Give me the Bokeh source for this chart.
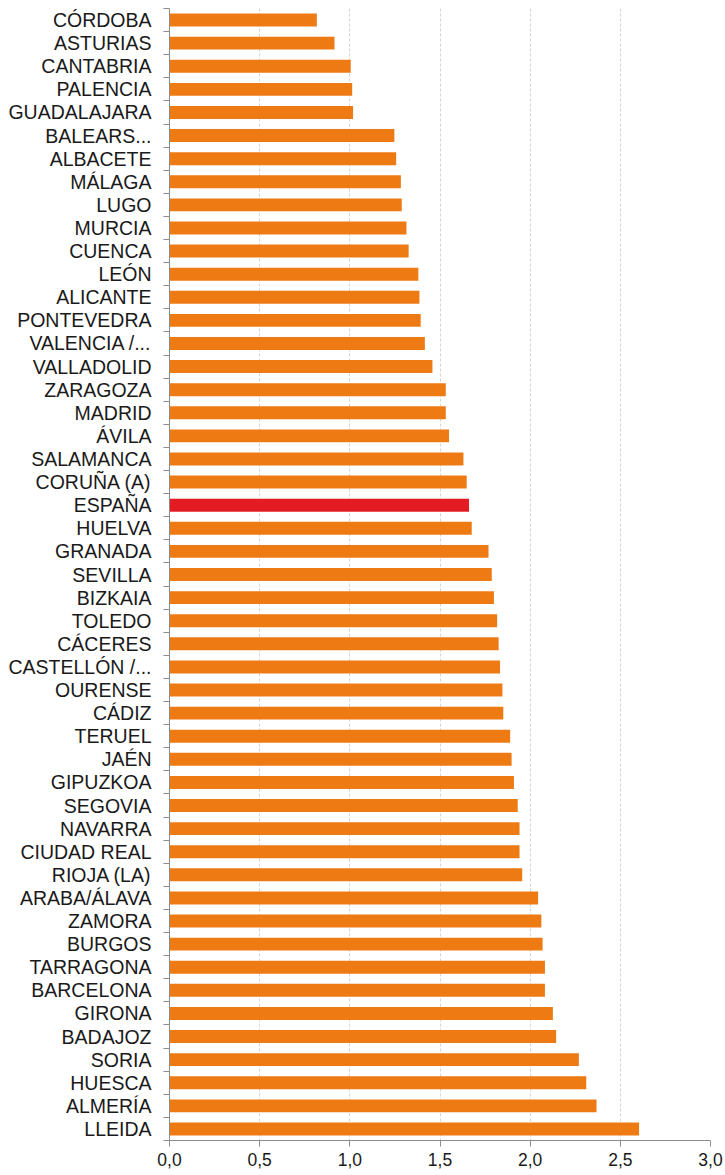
from bokeh.plotting import figure
from bokeh.models import Range1d, FixedTicker, CustomJSTickFormatter, ColumnDataSource
from bokeh.embed import file_html
from bokeh.resources import INLINE

provinces = ["CÓRDOBA", "ASTURIAS", "CANTABRIA", "PALENCIA", "GUADALAJARA", "BALEARS...",
             "ALBACETE", "MÁLAGA", "LUGO", "MURCIA", "CUENCA", "LEÓN", "ALICANTE",
             "PONTEVEDRA", "VALENCIA /...", "VALLADOLID", "ZARAGOZA", "MADRID", "ÁVILA",
             "SALAMANCA", "CORUÑA (A)", "ESPAÑA", "HUELVA", "GRANADA", "SEVILLA", "BIZKAIA",
             "TOLEDO", "CÁCERES", "CASTELLÓN /...", "OURENSE", "CÁDIZ", "TERUEL", "JAÉN",
             "GIPUZKOA", "SEGOVIA", "NAVARRA", "CIUDAD REAL", "RIOJA (LA)", "ARABA/ÁLAVA",
             "ZAMORA", "BURGOS", "TARRAGONA", "BARCELONA", "GIRONA", "BADAJOZ", "SORIA",
             "HUESCA", "ALMERÍA", "LLEIDA"]
values = [0.817, 0.915, 1.005, 1.013, 1.018, 1.247, 1.257, 1.283, 1.288, 1.314, 1.326, 1.380,
          1.386, 1.393, 1.416, 1.458, 1.532, 1.532, 1.550, 1.630, 1.648, 1.661, 1.676, 1.769,
          1.787, 1.799, 1.817, 1.825, 1.833, 1.846, 1.851, 1.889, 1.897, 1.910, 1.931, 1.941,
          1.941, 1.956, 2.044, 2.062, 2.069, 2.082, 2.082, 2.126, 2.144, 2.270, 2.311, 2.368,
          2.604]
x_ticks = [0.0, 0.5, 1.0, 1.5, 2.0, 2.5, 3.0]

ORANGE = "#EE7A14"
RED = "#E31B23"

n = len(provinces)
idx = list(range(n))
colors = [RED if p == "ESPAÑA" else ORANGE for p in provinces]
src = ColumnDataSource(dict(y=idx, right=values, color=colors))

p = figure(width=725, height=1175, output_backend="svg", toolbar_location=None,
           x_range=Range1d(0, 3.0), y_range=Range1d(n - 0.5, -0.5),
           min_border_left=169, min_border_right=15, min_border_top=8, min_border_bottom=35)
p.outline_line_color = None
p.background_fill_color = "white"

p.hbar(y="y", left=0, right="right", height=0.56, color="color", line_color=None, source=src)

FONT = "Liberation Sans"
AX = "#8c8c8c"

# x axis
p.xaxis.ticker = FixedTicker(ticks=x_ticks)
p.xaxis.formatter = CustomJSTickFormatter(code="return tick.toFixed(1).replace('.', ',');")
p.xaxis.axis_line_color = AX
p.xaxis.major_tick_line_color = AX
p.xaxis.major_tick_out = 6
p.xaxis.major_tick_in = 0
p.xaxis.minor_tick_line_color = None
p.xaxis.major_label_text_font = FONT
p.xaxis.major_label_text_font_size = "17.5px"
p.xaxis.major_label_text_color = "#1a1a1a"
p.xaxis.major_label_standoff = 6

# y axis: labels at centers, tick marks between categories
p.yaxis.ticker = FixedTicker(ticks=idx, minor_ticks=[i - 0.5 for i in range(n + 1)])
p.yaxis.major_label_overrides = {i: provinces[i] for i in idx}
p.yaxis.axis_line_color = AX
p.yaxis.major_tick_line_color = None
p.yaxis.major_tick_out = 0
p.yaxis.major_tick_in = 0
p.yaxis.minor_tick_line_color = AX
p.yaxis.minor_tick_out = 6
p.yaxis.minor_tick_in = 0
p.yaxis.major_label_text_font = FONT
p.yaxis.major_label_text_font_size = "19.5px"
p.yaxis.major_label_text_color = "#1a1a1a"
p.yaxis.major_label_standoff = 12

p.xgrid.ticker = FixedTicker(ticks=x_ticks[1:])
p.xgrid.grid_line_color = "#d4d4d4"
p.xgrid.grid_line_dash = "3 2"
p.ygrid.grid_line_color = None

open("out.html", "w").write(file_html(p, INLINE))
